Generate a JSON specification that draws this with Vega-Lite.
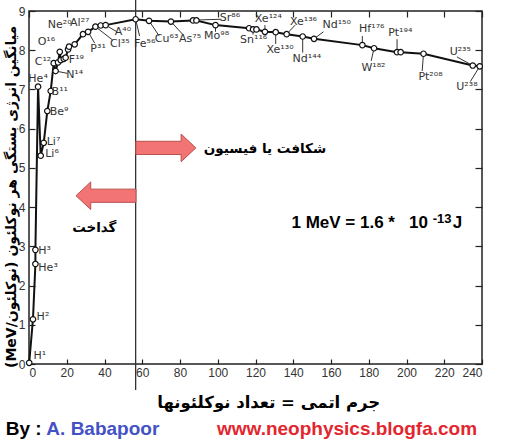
{
  "$schema": "https://vega.github.io/schema/vega-lite/v6.json",
  "width": 453,
  "height": 353,
  "autosize": {"type": "none"},
  "padding": {"left": 29, "top": 11, "right": 23, "bottom": 83},
  "background": "white",
  "config": {
    "view": {"stroke": "#222", "strokeWidth": 1.5},
    "axis": {"grid": false, "domain": false, "tickColor": "#222", "tickWidth": 1.2, "labelFont": "Liberation Sans", "labelFontSize": 12, "labelColor": "#333", "title": null}
  },
  "datasets": {
    "curve": [
      {"n": 1, "A": 0.1, "E": 0.03},
      {"n": 2, "A": 2.1, "E": 1.14},
      {"n": 3, "A": 3.4, "E": 2.55},
      {"n": 4, "A": 3.4, "E": 2.91},
      {"n": 5, "A": 4.8, "E": 7.07},
      {"n": 6, "A": 6.2, "E": 5.31},
      {"n": 7, "A": 7.8, "E": 5.64},
      {"n": 8, "A": 9.7, "E": 6.45},
      {"n": 9, "A": 11.5, "E": 6.96},
      {"n": 10, "A": 13.1, "E": 7.67},
      {"n": 11, "A": 14.1, "E": 7.47},
      {"n": 12, "A": 15.4, "E": 7.69},
      {"n": 13, "A": 16.3, "E": 7.96},
      {"n": 14, "A": 16.8, "E": 7.75},
      {"n": 15, "A": 18.4, "E": 7.78},
      {"n": 16, "A": 19.4, "E": 7.81},
      {"n": 17, "A": 20.7, "E": 8.02},
      {"n": 18, "A": 21.2, "E": 8.09},
      {"n": 19, "A": 24.2, "E": 8.15},
      {"n": 20, "A": 28.6, "E": 8.41},
      {"n": 21, "A": 31.3, "E": 8.47},
      {"n": 22, "A": 35.2, "E": 8.6},
      {"n": 23, "A": 38.0, "E": 8.63},
      {"n": 24, "A": 40.6, "E": 8.64},
      {"n": 25, "A": 56.5, "E": 8.79},
      {"n": 26, "A": 63.6, "E": 8.75},
      {"n": 27, "A": 75.2, "E": 8.73},
      {"n": 28, "A": 86.9, "E": 8.76},
      {"n": 29, "A": 88.7, "E": 8.76},
      {"n": 30, "A": 98.8, "E": 8.64},
      {"n": 31, "A": 116.6, "E": 8.56},
      {"n": 32, "A": 118.7, "E": 8.53},
      {"n": 33, "A": 120.5, "E": 8.53},
      {"n": 34, "A": 125.0, "E": 8.47},
      {"n": 35, "A": 130.7, "E": 8.46},
      {"n": 36, "A": 136.5, "E": 8.41},
      {"n": 37, "A": 145.0, "E": 8.35},
      {"n": 38, "A": 151.0, "E": 8.29},
      {"n": 39, "A": 176.6, "E": 8.13},
      {"n": 40, "A": 182.8, "E": 8.05},
      {"n": 41, "A": 195.0, "E": 7.95},
      {"n": 42, "A": 196.9, "E": 7.95},
      {"n": 43, "A": 209.0, "E": 7.91},
      {"n": 44, "A": 235.1, "E": 7.61},
      {"n": 45, "A": 238.8, "E": 7.59}
    ],
    "labels": [
      {"t": "H¹", "x": 5.7, "y": 0.2},
      {"t": "H²", "x": 7.4, "y": 1.2},
      {"t": "H³", "x": 8.3, "y": 2.88},
      {"t": "He³", "x": 10.1, "y": 2.46},
      {"t": "He⁴", "x": 4.8, "y": 7.26},
      {"t": "Li⁷", "x": 13.0, "y": 5.66},
      {"t": "Li⁶", "x": 12.2, "y": 5.35},
      {"t": "Be⁹", "x": 15.9, "y": 6.43},
      {"t": "B¹¹", "x": 16.3, "y": 6.93},
      {"t": "C¹²", "x": 7.4, "y": 7.69},
      {"t": "N¹⁴", "x": 24.2, "y": 7.37},
      {"t": "O¹⁶", "x": 9.2, "y": 8.22},
      {"t": "F¹⁹", "x": 25.1, "y": 7.75},
      {"t": "Ne²⁰", "x": 16.3, "y": 8.64},
      {"t": "Al²⁷", "x": 26.9, "y": 8.69},
      {"t": "P³¹", "x": 36.6, "y": 8.03},
      {"t": "Cl³⁵", "x": 48.1, "y": 8.17},
      {"t": "A⁴⁰", "x": 49.8, "y": 8.47},
      {"t": "Fe⁵⁶", "x": 61.3, "y": 8.17},
      {"t": "Cu⁶³", "x": 72.9, "y": 8.28},
      {"t": "As⁷⁵", "x": 85.3, "y": 8.28},
      {"t": "Sr⁸⁶", "x": 106.5, "y": 8.81},
      {"t": "Mo⁹⁸", "x": 99.4, "y": 8.35},
      {"t": "Sn¹¹⁶", "x": 119.0, "y": 8.26},
      {"t": "Xe¹²⁴", "x": 126.8, "y": 8.79},
      {"t": "Xe¹³⁰", "x": 133.0, "y": 8.0},
      {"t": "Xe¹³⁶", "x": 145.4, "y": 8.73},
      {"t": "Nd¹⁴⁴", "x": 147.2, "y": 7.77},
      {"t": "Nd¹⁵⁰", "x": 163.0, "y": 8.64},
      {"t": "Hf¹⁷⁶", "x": 181.6, "y": 8.53},
      {"t": "W¹⁸²", "x": 182.5, "y": 7.55},
      {"t": "Pt¹⁹⁴", "x": 196.7, "y": 8.43},
      {"t": "Pt²⁰⁸", "x": 212.7, "y": 7.32},
      {"t": "U²³⁵", "x": 228.5, "y": 7.96},
      {"t": "U²³⁸", "x": 232.0, "y": 7.07}
    ],
    "leaders": [
      {"x": 14.1, "y": 7.47, "x2": 20.3, "y2": 7.41},
      {"x": 31.3, "y": 8.47, "x2": 34.8, "y2": 8.18},
      {"x": 35.2, "y": 8.6, "x2": 44.3, "y2": 8.26},
      {"x": 40.6, "y": 8.64, "x2": 46.6, "y2": 8.47},
      {"x": 56.5, "y": 8.79, "x2": 58.6, "y2": 8.36},
      {"x": 63.6, "y": 8.75, "x2": 69.0, "y2": 8.36},
      {"x": 75.2, "y": 8.73, "x2": 81.7, "y2": 8.39},
      {"x": 88.7, "y": 8.77, "x2": 102.0, "y2": 8.79},
      {"x": 98.8, "y": 8.64, "x2": 98.8, "y2": 8.47},
      {"x": 118.7, "y": 8.53, "x2": 118.7, "y2": 8.4},
      {"x": 125.0, "y": 8.47, "x2": 125.0, "y2": 8.64},
      {"x": 130.7, "y": 8.46, "x2": 130.7, "y2": 8.16},
      {"x": 136.5, "y": 8.41, "x2": 141.0, "y2": 8.64},
      {"x": 145.0, "y": 8.35, "x2": 145.0, "y2": 7.94},
      {"x": 151.0, "y": 8.29, "x2": 156.0, "y2": 8.47},
      {"x": 176.6, "y": 8.13, "x2": 176.6, "y2": 8.36},
      {"x": 182.8, "y": 8.05, "x2": 181.3, "y2": 7.73},
      {"x": 195.0, "y": 7.95, "x2": 195.0, "y2": 8.28},
      {"x": 209.0, "y": 7.91, "x2": 208.3, "y2": 7.47},
      {"x": 235.1, "y": 7.61, "x2": 226.7, "y2": 7.83},
      {"x": 238.8, "y": 7.59, "x2": 233.8, "y2": 7.2}
    ],
    "arrows": [
      {"dir": "right", "x": 72.5, "y": 5.51},
      {"dir": "left", "x": 40.8, "y": 4.29}
    ],
    "notes": [
      {"kind": "fa", "t": "شکافت یا فیسیون", "x": 125.0, "y": 5.48},
      {"kind": "fa", "t": "گداخت", "x": 34.6, "y": 3.47},
      {"kind": "xtitle", "t": "جرم اتمی = تعداد نوکلئونها", "x": 127.0, "y": -0.995},
      {"kind": "ytitle", "t": "(MeV/نوکلئون)\u200e میانگین انرژی بستگی هر نوکلئون", "x": -9.2, "y": 4.26},
      {"kind": "mev", "t": "1 MeV = 1.6 *\u00a0\u00a0\u00a010", "x": 211.4, "y": 3.467},
      {"kind": "sup", "t": "-13", "x": 213.9, "y": 3.595},
      {"kind": "j", "t": "J", "x": 224.5, "y": 3.467},
      {"kind": "by", "t": "By :", "x": -12.3, "y": -1.81},
      {"kind": "author", "t": "A. Babapoor", "x": 9.2, "y": -1.81},
      {"kind": "url", "t": "www.neophysics.blogfa.com", "x": 99.6, "y": -1.81}
    ]
  },
  "layer": [
    {
      "data": {"values": [{"x": 56.5, "y": 9.28, "y2": -0.66}]},
      "mark": {"type": "rule", "color": "#333", "strokeWidth": 1.3},
      "encoding": {
        "x": {"field": "x", "type": "quantitative", "scale": {"domain": [0, 240], "nice": false, "zero": false},
              "axis": {"orient": "top", "labels": false, "values": [0, 20, 40, 60, 80, 100, 120, 140, 160, 180, 200, 220, 240], "tickSize": -6}},
        "y": {"field": "y", "type": "quantitative", "scale": {"domain": [0, 9], "nice": false, "zero": false},
              "axis": {"orient": "right", "labels": false, "values": [0, 1, 2, 3, 4, 5, 6, 7, 8, 9], "tickSize": -7}},
        "y2": {"field": "y2"}
      }
    },
    {
      "data": {"name": "curve"},
      "mark": {"type": "line", "color": "#111", "strokeWidth": 2},
      "encoding": {
        "x": {"field": "A", "type": "quantitative", "scale": {"domain": [0, 240], "nice": false, "zero": false},
              "axis": {"orient": "bottom", "values": [0, 20, 40, 60, 80, 100, 120, 140, 160, 180, 200, 220, 240], "tickSize": -5, "labelPadding": 8}},
        "y": {"field": "E", "type": "quantitative", "scale": {"domain": [0, 9], "nice": false, "zero": false},
              "axis": {"orient": "left", "values": [0, 1, 2, 3, 4, 5, 6, 7, 8, 9], "tickSize": -6, "labelPadding": 10}},
        "order": {"field": "n", "type": "quantitative"}
      }
    },
    {
      "data": {"name": "leaders"},
      "mark": {"type": "rule", "color": "#333", "strokeWidth": 1},
      "encoding": {
        "x": {"field": "x", "type": "quantitative", "scale": {"domain": [0, 240], "nice": false, "zero": false}, "axis": null},
        "y": {"field": "y", "type": "quantitative", "scale": {"domain": [0, 9], "nice": false, "zero": false}, "axis": null},
        "x2": {"field": "x2"},
        "y2": {"field": "y2"}
      }
    },
    {
      "data": {"name": "curve"},
      "mark": {"type": "point", "shape": "circle", "filled": true, "fill": "white", "stroke": "#111", "strokeWidth": 1.2, "size": 30, "opacity": 1},
      "encoding": {
        "x": {"field": "A", "type": "quantitative", "scale": {"domain": [0, 240], "nice": false, "zero": false}, "axis": null},
        "y": {"field": "E", "type": "quantitative", "scale": {"domain": [0, 9], "nice": false, "zero": false}, "axis": null}
      }
    },
    {
      "data": {"name": "labels"},
      "mark": {"type": "text", "font": "DejaVu Sans", "fontSize": 11, "color": "#333", "align": "center", "baseline": "middle"},
      "encoding": {
        "x": {"field": "x", "type": "quantitative", "scale": {"domain": [0, 240], "nice": false, "zero": false}, "axis": null},
        "y": {"field": "y", "type": "quantitative", "scale": {"domain": [0, 9], "nice": false, "zero": false}, "axis": null},
        "text": {"field": "t"}
      }
    },
    {
      "data": {"name": "arrows"},
      "mark": {"type": "point", "filled": true, "fill": "#f27474", "stroke": "#b9504c", "strokeWidth": 1, "size": 3600, "opacity": 1},
      "encoding": {
        "x": {"field": "x", "type": "quantitative", "scale": {"domain": [0, 240], "nice": false, "zero": false}, "axis": null},
        "y": {"field": "y", "type": "quantitative", "scale": {"domain": [0, 9], "nice": false, "zero": false}, "axis": null},
        "shape": {"field": "dir", "type": "nominal", "legend": null,
                  "scale": {"domain": ["right", "left"], "range": ["M-1,-0.22L0.51,-0.22L0.51,-0.46L1,0L0.51,0.46L0.51,0.22L-1,0.22Z", "M1,-0.22L-0.51,-0.22L-0.51,-0.46L-1,0L-0.51,0.46L-0.51,0.22L1,0.22Z"]}}
      }
    },
    {
      "data": {"name": "notes"},
      "transform": [{"filter": "datum.kind == 'fa'"}],
      "mark": {"type": "text", "font": "DejaVu Sans", "fontSize": 13.5, "fontWeight": "bold", "color": "#000", "align": "center", "baseline": "middle"},
      "encoding": {
        "x": {"field": "x", "type": "quantitative", "scale": {"domain": [0, 240], "nice": false, "zero": false}, "axis": null},
        "y": {"field": "y", "type": "quantitative", "scale": {"domain": [0, 9], "nice": false, "zero": false}, "axis": null},
        "text": {"field": "t"}
      }
    },
    {
      "data": {"name": "notes"},
      "transform": [{"filter": "datum.kind == 'xtitle'"}],
      "mark": {"type": "text", "font": "DejaVu Sans", "fontSize": 16.5, "fontWeight": "bold", "color": "#000", "align": "center", "baseline": "middle"},
      "encoding": {
        "x": {"field": "x", "type": "quantitative", "scale": {"domain": [0, 240], "nice": false, "zero": false}, "axis": null},
        "y": {"field": "y", "type": "quantitative", "scale": {"domain": [0, 9], "nice": false, "zero": false}, "axis": null},
        "text": {"field": "t"}
      }
    },
    {
      "data": {"name": "notes"},
      "transform": [{"filter": "datum.kind == 'ytitle'"}],
      "mark": {"type": "text", "font": "DejaVu Sans", "fontSize": 14, "fontWeight": "bold", "color": "#000", "align": "center", "baseline": "middle", "angle": 270},
      "encoding": {
        "x": {"field": "x", "type": "quantitative", "scale": {"domain": [0, 240], "nice": false, "zero": false}, "axis": null},
        "y": {"field": "y", "type": "quantitative", "scale": {"domain": [0, 9], "nice": false, "zero": false}, "axis": null},
        "text": {"field": "t"}
      }
    },
    {
      "data": {"name": "notes"},
      "transform": [{"filter": "datum.kind == 'mev'"}],
      "mark": {"type": "text", "font": "Liberation Sans", "fontSize": 17, "fontWeight": "bold", "color": "#000", "align": "right", "baseline": "alphabetic"},
      "encoding": {
        "x": {"field": "x", "type": "quantitative", "scale": {"domain": [0, 240], "nice": false, "zero": false}, "axis": null},
        "y": {"field": "y", "type": "quantitative", "scale": {"domain": [0, 9], "nice": false, "zero": false}, "axis": null},
        "text": {"field": "t"}
      }
    },
    {
      "data": {"name": "notes"},
      "transform": [{"filter": "datum.kind == 'sup'"}],
      "mark": {"type": "text", "font": "Liberation Sans", "fontSize": 13, "fontWeight": "bold", "color": "#000", "align": "left", "baseline": "alphabetic"},
      "encoding": {
        "x": {"field": "x", "type": "quantitative", "scale": {"domain": [0, 240], "nice": false, "zero": false}, "axis": null},
        "y": {"field": "y", "type": "quantitative", "scale": {"domain": [0, 9], "nice": false, "zero": false}, "axis": null},
        "text": {"field": "t"}
      }
    },
    {
      "data": {"name": "notes"},
      "transform": [{"filter": "datum.kind == 'j'"}],
      "mark": {"type": "text", "font": "Liberation Sans", "fontSize": 17, "fontWeight": "bold", "color": "#000", "align": "left", "baseline": "alphabetic"},
      "encoding": {
        "x": {"field": "x", "type": "quantitative", "scale": {"domain": [0, 240], "nice": false, "zero": false}, "axis": null},
        "y": {"field": "y", "type": "quantitative", "scale": {"domain": [0, 9], "nice": false, "zero": false}, "axis": null},
        "text": {"field": "t"}
      }
    },
    {
      "data": {"name": "notes"},
      "transform": [{"filter": "datum.kind == 'by' || datum.kind == 'author' || datum.kind == 'url'"}],
      "mark": {"type": "text", "font": "Liberation Sans", "fontSize": 19, "fontWeight": "bold", "align": "left", "baseline": "alphabetic"},
      "encoding": {
        "x": {"field": "x", "type": "quantitative", "scale": {"domain": [0, 240], "nice": false, "zero": false}, "axis": null},
        "y": {"field": "y", "type": "quantitative", "scale": {"domain": [0, 9], "nice": false, "zero": false}, "axis": null},
        "text": {"field": "t"},
        "color": {"field": "kind", "type": "nominal", "legend": null,
                  "scale": {"domain": ["by", "author", "url"], "range": ["#000000", "#4352c4", "#e3262e"]}}
      }
    }
  ],
  "resolve": {"axis": {"x": "independent", "y": "independent"}}
}
